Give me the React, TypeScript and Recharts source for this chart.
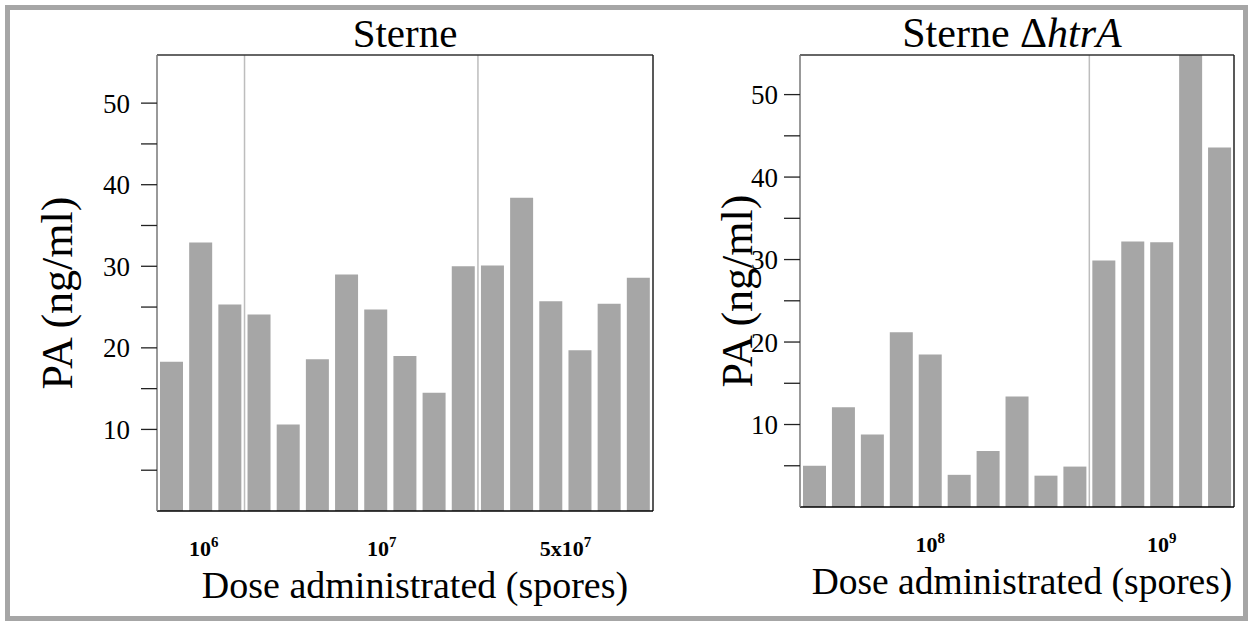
import React from "react";
import { BarChart, Bar, XAxis, YAxis, ReferenceLine, Label } from "recharts";

// PA levels, one bar per animal
const sterneValues = [18.3, 32.9, 25.3, 24.1, 10.6, 18.6, 29.0, 24.7, 19.0, 14.5, 30.0, 30.1, 38.4, 25.7, 19.7, 25.4, 28.6];
const htrAValues = [5.0, 12.1, 8.8, 21.2, 18.5, 3.9, 6.8, 13.4, 3.8, 4.9, 29.9, 32.2, 32.1, 56, 43.6];

// dose groups: first bar of each new group, and label positions (in bar widths from the left)
const sterneBreaks = [3, 11];
const sterneDosePos = [1.6, 7.7, 14];
const sterneDoseBase = ["10", "10", "5x10"];
const sterneDoseExp = ["6", "7", "7"];

const htrABreaks = [10];
const htrADosePos = [4.5, 12.5];
const htrADoseBase = ["10", "10"];
const htrADoseExp = ["8", "9"];

const yTicks = [5, 10, 15, 20, 25, 30, 35, 40, 45, 50];

const FONT = '"Liberation Serif", "Times New Roman", serif';
const BAR = "#a6a6a6";

interface PanelProps {
  values: number[];
  breaks: number[];
  dosePos: number[];
  doseBase: string[];
  doseExp: string[];
  yMax: number;
  width: number;
  yAxisWidth: number;
  marginRight: number;
  marginBottom: number;
  tickMargin: number;
  xTitleSize: number;
  xTitleShift: number;
}

const Panel = ({
  values,
  breaks,
  dosePos,
  doseBase,
  doseExp,
  yMax,
  width,
  yAxisWidth,
  marginRight,
  marginBottom,
  tickMargin,
  xTitleSize,
  xTitleShift,
}: PanelProps) => {
  const data = values.map((v, i) => ({ idx: i, pa: v }));
  const n = values.length;

  const doseTick = (props: any) => {
    const { x, y, payload, index } = props;
    const i = typeof index === "number" ? index : payload.index;
    const k = dosePos.findIndex((p) => Math.min(Math.floor(p), n - 1) === i);
    if (k < 0) return <g />;
    const half = payload.offset ?? 0;
    const dx = (dosePos[k] - (i + 0.5)) * 2 * half;
    return (
      <text
        x={x + dx}
        y={y + 45}
        textAnchor="middle"
        fontFamily={FONT}
        fontWeight="bold"
        fontSize={22}
        fill="#000"
      >
        <tspan>{doseBase[k]}</tspan>
        <tspan dy={-9} fontSize={15}>
          {doseExp[k]}
        </tspan>
      </text>
    );
  };

  return (
    <BarChart
      width={width}
      height={625}
      data={data}
      margin={{ top: 55, right: marginRight, left: 0, bottom: marginBottom }}
    >
      <XAxis
        dataKey="idx"
        type="category"
        interval={0}
        height={100}
        tickSize={0}
        tickMargin={0}
        tickLine={false}
        axisLine={{ stroke: "#000", strokeWidth: 1.5 }}
        tick={doseTick}
      >
        <Label
          content={(p: any) => {
            const vb = p.viewBox;
            return (
              <text
                x={vb.x + vb.width / 2 + xTitleShift}
                y={vb.y + 87}
                textAnchor="middle"
                fontFamily={FONT}
                fontSize={xTitleSize}
                fill="#000"
              >
                Dose administrated (spores)
              </text>
            );
          }}
        />
      </XAxis>
      <YAxis
        domain={[0, yMax]}
        allowDataOverflow
        ticks={yTicks}
        interval={0}
        width={yAxisWidth}
        tickSize={16}
        tickMargin={tickMargin}
        tickFormatter={(v: number) => (v % 10 === 0 ? String(v) : "")}
        tick={{ fill: "#000", fontSize: 27, fontFamily: FONT }}
        tickLine={{ stroke: "#222", strokeWidth: 1.3 }}
        axisLine={{ stroke: "#777", strokeWidth: 1.5 }}
      >
        <Label
          content={(p: any) => {
            const vb = p.viewBox;
            const cx = vb.x + 57;
            const cy = vb.y + vb.height / 2 + 10;
            return (
              <text
                x={cx}
                y={cy}
                transform={`rotate(-90 ${cx} ${cy})`}
                textAnchor="middle"
                dominantBaseline="central"
                fontFamily={FONT}
                fontSize={44}
                fill="#000"
              >
                PA (ng/ml)
              </text>
            );
          }}
        />
      </YAxis>
      {breaks.map((b) => (
        <ReferenceLine key={b} x={b} position="start" stroke="#bdbdbd" strokeWidth={1.5} />
      ))}
      <Bar dataKey="pa" fill={BAR} barSize={23} isAnimationActive={false} />
      <ReferenceLine y={yMax} stroke="#333" strokeWidth={1.5} />
      <ReferenceLine x={n - 1} position="end" stroke="#222" strokeWidth={1.5} />
    </BarChart>
  );
};

const titleStyle: React.CSSProperties = {
  position: "absolute",
  top: 12,
  fontFamily: FONT,
  fontSize: 41,
  lineHeight: "42px",
  textAlign: "center",
  color: "#000",
  whiteSpace: "nowrap",
};

export default function App() {
  return (
    <div style={{ position: "absolute", left: 0, top: 0, width: 1253, height: 625, background: "#fff" }}>
      <div
        style={{
          position: "absolute",
          left: 5,
          top: 5,
          width: 1243,
          height: 616,
          border: "5px solid #a6a6a6",
          boxSizing: "border-box",
        }}
      />
      <div style={{ position: "absolute", left: 0, top: 0 }}>
        <Panel
          values={sterneValues}
          breaks={sterneBreaks}
          dosePos={sterneDosePos}
          doseBase={sterneDoseBase}
          doseExp={sterneDoseExp}
          yMax={55.9}
          width={700}
          yAxisWidth={157}
          marginRight={47}
          marginBottom={14}
          tickMargin={11}
          xTitleSize={38}
          xTitleShift={10}
        />
      </div>
      <div style={{ position: "absolute", left: 680, top: 0 }}>
        <Panel
          values={htrAValues}
          breaks={htrABreaks}
          dosePos={htrADosePos}
          doseBase={htrADoseBase}
          doseExp={htrADoseExp}
          yMax={54.8}
          width={573}
          yAxisWidth={120}
          marginRight={19}
          marginBottom={18}
          tickMargin={6}
          xTitleSize={37.5}
          xTitleShift={5}
        />
      </div>
      <div style={{ ...titleStyle, left: 205, width: 400 }}>Sterne</div>
      <div style={{ ...titleStyle, left: 812, width: 400, fontSize: 42 }}>
        Sterne Δ<i>htrA</i>
      </div>
    </div>
  );
}
